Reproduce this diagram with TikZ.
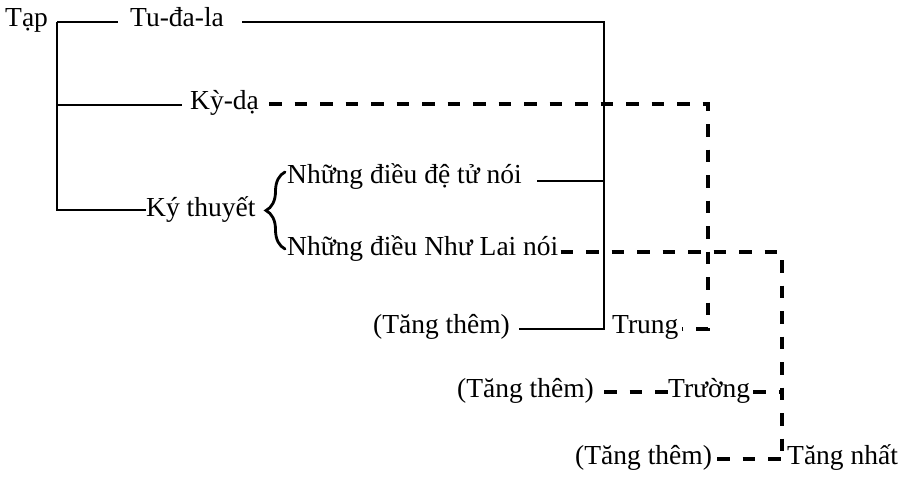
\documentclass[tikz,border=0pt]{standalone}
\usepackage{fontspec}
\setmainfont{Liberation Serif}
\usetikzlibrary{decorations.pathreplacing}
\begin{document}
\begin{tikzpicture}[x=1pt,y=-1pt,
  txt/.style={font=\fontsize{27.5}{33}\selectfont, inner sep=0pt, anchor=west, text height=19pt, text depth=8pt},
  solidline/.style={line width=2pt},
  dashline/.style={line width=3.6pt, dash pattern=on 12.5pt off 13pt}]
\useasboundingbox (0,0) rectangle (900,486);
% text nodes
\node[txt] (tap) at (5,21) {Tạp};
\node[txt] (tudala) at (130,21) {Tu-đa-la};
\node[txt] (kyda) at (190,104) {Kỳ-dạ};
\node[txt, xscale=1.0] (kythuyet) at (146,211) {Ký thuyết};
\node[txt] (dtu) at (287,178) {Những điều đệ tử nói};
\node[txt] (nlai) at (287,250) {Những điều Như Lai nói};
\node[txt] (tang1) at (373,328) {(Tăng thêm)};
\node[txt] (trung) at (612,328) {Trung};
\node[txt] (tang2) at (457,392) {(Tăng thêm)};
\node[txt] (truong) at (668,392) {Trường};
\node[txt] (tang3) at (575,459) {(Tăng thêm)};
\node[txt] (tangnhat) at (787,459) {Tăng nhất};
% junction coordinates
\coordinate (t0) at (57,22);
\coordinate (t1) at (57,105);
\coordinate (t2) at (57,210);
\coordinate (r0) at (604,22);
\coordinate (r1) at (604,329);
\coordinate (rd) at (604,181);
\coordinate (dstart) at (537,181);
\coordinate (c0) at (708,104);
\coordinate (c1) at (708,329);
\coordinate (d0) at (782,252);
\coordinate (d1) at (782,460);
\coordinate (bTop) at (285,172);
\coordinate (bBot) at (285,249);
% solid tree
\draw[solidline] (t0) -- ([xshift=-12pt]tudala.west |- t0);
\draw[solidline] ([xshift=18pt]tudala.east |- r0) -- (r0) -- (r1) -- ([xshift=9pt]tang1.east |- r1);
\draw[solidline] (t0) -- (t2) -- (kythuyet.west |- t2);
\draw[solidline] (t1) -- ([xshift=-8pt]kyda.west |- t1);
\draw[solidline] (dstart) -- (rd);
% brace
\draw[line width=2.8pt, line cap=round, decorate, decoration={brace, amplitude=19pt, aspect=0.5}]
  (bBot) -- (bTop);
% dashed connectors
\draw[dashline] ([xshift=10pt]kyda.east |- c0) -- (c0) -- (c1) -- ([xshift=3pt]trung.east |- c1);
\draw[dashline] ([xshift=2pt]nlai.east |- d0) -- (d0) -- (d1);
\draw[dashline] ([xshift=10pt]tang2.east) -- (truong.west);
\draw[dashline] ([xshift=3pt]truong.east) -- (truong.east -| d0);
\draw[dashline] ([xshift=5pt]tang3.east) -- (tangnhat.west);
\end{tikzpicture}
\end{document}
